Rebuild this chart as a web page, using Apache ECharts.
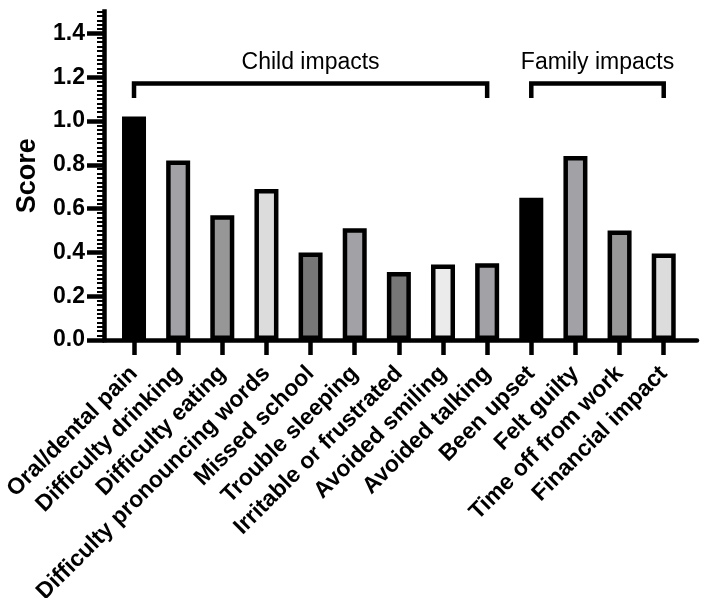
<!DOCTYPE html>
<html>
<head>
<meta charset="utf-8">
<script src="https://cdn.jsdelivr.net/npm/echarts@6/dist/echarts.min.js"></script>
<style>
html,body{margin:0;padding:0;background:#fff;}
#chart{width:702px;height:598px;}
</style>
</head>
<body>
<div id="chart"></div>
<script>
// ---- data ----
const categories = [
  'Oral/dental pain', 'Difficulty drinking', 'Difficulty eating',
  'Difficulty pronouncing words', 'Missed school', 'Trouble sleeping',
  'Irritable or frustrated', 'Avoided smiling', 'Avoided talking',
  'Been upset', 'Felt guilty', 'Time off from work', 'Financial impact'
];
const scores = [1.02, 0.82, 0.57, 0.69, 0.40, 0.51, 0.31, 0.345, 0.35, 0.65, 0.84, 0.50, 0.395];
const yTickLabels = [0, 0.2, 0.4, 0.6, 0.8, 1.0, 1.2, 1.4];
const groupNames = ['Child impacts', 'Family impacts'];
const groupStart = [0, 9];
const groupEnd = [8, 12];

// ---- styles ----
const barColors = ['#000000', '#a2a2a6', '#979797', '#dcdcdc', '#777777', '#a2a2a6',
  '#777777', '#ebebeb', '#a2a2a6', '#000000', '#a2a2a6', '#979797', '#dcdcdc'];
const FONT = 'Liberation Sans';
const bracketTop = 1.171, bracketBottom = 1.105, groupLabelY = 1.265;

const chart = echarts.init(document.getElementById('chart'), null, {renderer: 'canvas'});

const series = [{
  type: 'bar',
  xAxisIndex: 0, yAxisIndex: 0,
  barWidth: 24,
  data: scores.map((v, i) => ({value: [i, v], itemStyle: {color: barColors[i]}})),
  itemStyle: {borderColor: '#000', borderWidth: 4.5},
  z: 1
}];
groupNames.forEach((g, k) => {
  series.push({
    type: 'line',
    xAxisIndex: 0, yAxisIndex: 0,
    showSymbol: false, symbol: 'none',
    lineStyle: {color: '#000', width: 4.5, join: 'miter', cap: 'butt'},
    data: [[groupStart[k], bracketBottom], [groupStart[k], bracketTop],
           [groupEnd[k], bracketTop], [groupEnd[k], bracketBottom]],
    silent: true
  });
});
series.push({
  type: 'scatter',
  xAxisIndex: 0, yAxisIndex: 0,
  symbolSize: 0,
  itemStyle: {opacity: 1},
  data: groupNames.map((g, k) => ({name: g, value: [(groupStart[k] + groupEnd[k]) / 2, groupLabelY]})),
  label: {show: true, position: 'inside', formatter: '{b}', color: '#000', opacity: 1,
          fontFamily: FONT, fontSize: 23, fontWeight: 'normal'},
  silent: true
});

chart.setOption({
  animation: false,
  backgroundColor: '#fff',
  grid: {left: 104, right: 5, top: 11.5, bottom: 258, containLabel: false, outerBoundsMode: 'none'},
  xAxis: [{
    type: 'value',
    min: -0.68, max: 12.754,
    axisLine: {show: true, onZero: false, lineStyle: {color: '#000', width: 4.5}},
    axisTick: {show: true, customValues: categories.map((c, i) => i), length: 15,
               lineStyle: {color: '#000', width: 4.5}},
    axisLabel: {show: true, customValues: categories.map((c, i) => i),
                formatter: v => categories[Math.round(v)] || '',
                rotate: 45, margin: 30, color: '#000',
                fontFamily: FONT, fontSize: 23, fontWeight: 'bold'},
    splitLine: {show: false}
  }],
  yAxis: [{
    type: 'value', min: 0, max: 1.5, interval: 0.02,
    axisLine: {show: true, onZero: false, lineStyle: {color: '#000', width: 4.5, cap: 'square'}},
    axisTick: {show: true, length: 7, lineStyle: {color: '#000', width: 2}},
    axisLabel: {show: false},
    splitLine: {show: false}
  }, {
    type: 'value', min: 0, max: 1.5, interval: 0.1,
    position: 'left',
    name: 'Score', nameLocation: 'middle', nameGap: 63,
    nameTextStyle: {color: '#000', fontFamily: FONT, fontSize: 27, fontWeight: 'bold'},
    axisLine: {show: false, onZero: false},
    axisTick: {show: true, customValues: yTickLabels, length: 17,
               lineStyle: {color: '#000', width: 4.5}},
    axisLabel: {show: true, customValues: yTickLabels, margin: 19,
                formatter: v => Number(v).toFixed(1), color: '#000',
                fontFamily: FONT, fontSize: 23, fontWeight: 'bold'},
    splitLine: {show: false}
  }],
  series: series
});
</script>
</body>
</html>
